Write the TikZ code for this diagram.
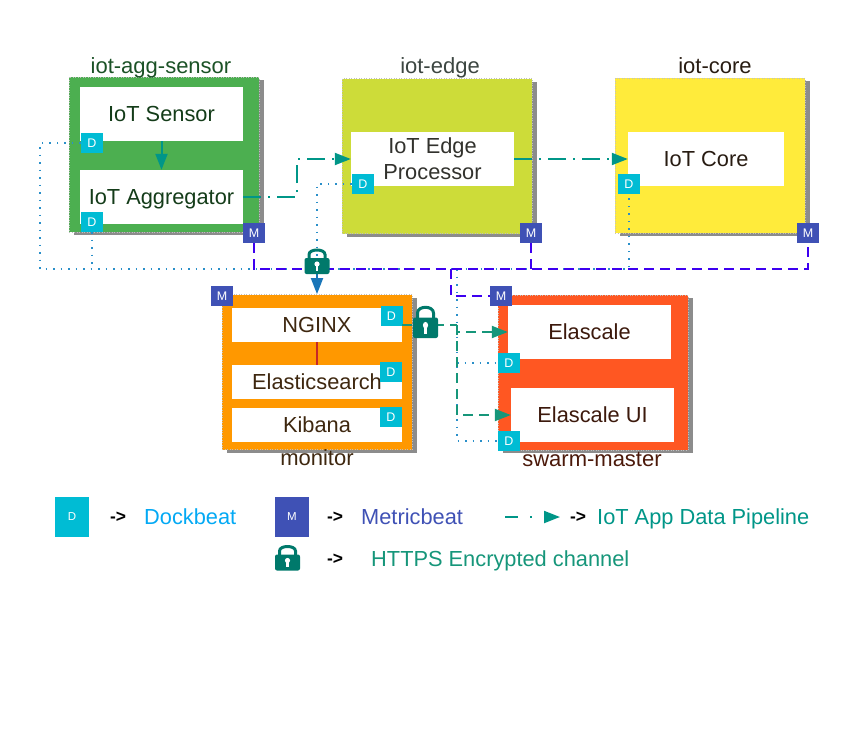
\documentclass[tikz,border=0pt]{standalone}
\usepackage{fontspec}
\setmainfont{Liberation Sans}
\usepackage{tikz}
\usetikzlibrary{arrows.meta,shadows}
\definecolor{DockColor}{HTML}{00BCD4}
\definecolor{MetricColor}{HTML}{3F51B5}
\definecolor{PipeColor}{HTML}{009688}
\definecolor{LockColor}{HTML}{00796B}
\definecolor{BusColor}{HTML}{3D00F0}
\definecolor{DotColor}{HTML}{2A8FC9}
\definecolor{SecureColor}{HTML}{16967A}
\definecolor{AggFill}{HTML}{4CAF50}
\definecolor{EdgeFill}{HTML}{CDDC39}
\definecolor{CoreFill}{HTML}{FFEB3B}
\definecolor{MonitorFill}{HTML}{FF9800}
\definecolor{SwarmFill}{HTML}{FF5722}
\definecolor{AggText}{HTML}{143C19}
\definecolor{EdgeText}{HTML}{32322D}
\definecolor{CoreText}{HTML}{281C12}
\definecolor{MonitorText}{HTML}{3E270F}
\definecolor{SwarmText}{HTML}{3C190C}
\definecolor{AggLabel}{HTML}{1B5226}
\definecolor{EdgeLabel}{HTML}{3C4641}
\definecolor{SwarmLabel}{HTML}{4B190A}
\definecolor{RedLink}{HTML}{C62828}
\definecolor{HttpsArrow}{HTML}{1976B8}
\definecolor{DockText}{HTML}{03A9F4}
\newcommand{\MainFont}{\fontsize{21.8}{26}\selectfont}
\tikzset{
  hostbox/.style={minimum width=190,minimum height=155,inner sep=0,fill=#1,
    draw=black!25,line width=0.8pt,dash pattern=on 1pt off 1.5pt,
    general shadow={fill=black!45,shadow xshift=5pt,shadow yshift=-3pt}},
  oneline/.style={text height=15.5pt,text depth=0pt},
  appbox/.style={fill=white,inner sep=0,minimum width=163,minimum height=54,
    font=\MainFont,align=center},
  hostlabel/.style={font=\fontsize{22}{26}\selectfont,inner sep=0,oneline},
  legendtext/.style={inner sep=0,anchor=west,font=\MainFont,oneline},
  legendarrow/.style={inner sep=0,font=\MainFont\bfseries,scale=0.8},
  dockbadge/.style={fill=DockColor,text=white,inner sep=0,minimum width=22,
    minimum height=20,font=\fontsize{12.5}{12}\selectfont},
  metricbadge/.style={fill=MetricColor,text=white,inner sep=0,minimum width=22,
    minimum height=20,font=\fontsize{12.5}{12}\selectfont},
  pipeline/.style={PipeColor,line width=2pt,
    dash pattern=on 18pt off 7pt on 2pt off 7pt},
  securelink/.style={SecureColor,line width=2pt,dash pattern=on 10pt off 6pt},
  metricbus/.style={BusColor,line width=2pt,dash pattern=on 10pt off 6pt},
  dockbus/.style={DotColor,line width=1.5pt,dash pattern=on 1.5pt off 6pt},
  padlock/.pic={
    \draw[LockColor,line width=3pt] (-8,-3) -- (-8,-7) .. controls (-8,-13) and (8,-13) .. (8,-7) -- (8,-3);
    \fill[LockColor,rounded corners=2pt] (-12.5,-3.5) rectangle (12.5,12.5);
    \fill[white] (0,2.5) circle (2.6pt);
    \fill[white] (-1.2,2.5) rectangle (1.2,9);
  }
}

\begin{document}
\begin{tikzpicture}[line cap=butt,line join=miter,>={Triangle[length=16pt,width=12pt]},x=1pt,y=-1pt]
  \useasboundingbox (0,0) rectangle (859,737);
  \node[hostbox=AggFill] (aggsensor) at (164,154.5) {};
  \node[hostbox=EdgeFill] (edgehost) at (437,156) {};
  \node[hostbox=CoreFill] (corehost) at (710,155.5) {};
  \node[hostbox=MonitorFill] (monitorhost) at (317,372) {};
  \node[hostbox=SwarmFill] (swarmhost) at (593,372.5) {};

  \node[hostlabel,text=AggLabel] (aggsensorlabel) at (161,65.5) {iot-agg-sensor};
  \node[hostlabel,text=EdgeLabel] (edgelabel) at (440,65.5) {iot-edge};
  \node[hostlabel,text=CoreText] (corelabel) at (715,65.5) {iot-core};
  \node[hostlabel,text=MonitorText] (monitorlabel) at (317,457.5) {monitor};
  \node[hostlabel,text=SwarmLabel] (swarmlabel) at (592,458.5) {swarm-master};

  \node[appbox,oneline,text=AggText] (sensor) at (161.5,114) {IoT Sensor};
  \node[appbox,oneline,text=AggText] (aggregator) at (161.5,197) {IoT Aggregator};
  \node[appbox,text=EdgeText] (edgeproc) at (432.5,159) {IoT Edge\\Processor};
  \node[appbox,oneline,minimum width=156,text=CoreText] (core) at (706,159) {IoT Core};
  \node[appbox,oneline,minimum width=170,minimum height=34,text=MonitorText] (nginx) at (317,325) {NGINX};
  \node[appbox,oneline,minimum width=170,minimum height=34,text=MonitorText] (elastic) at (317,382) {Elasticsearch};
  \node[appbox,oneline,minimum width=170,minimum height=34,text=MonitorText] (kibana) at (317,425) {Kibana};
  \node[appbox,oneline,text=SwarmText] (elascale) at (589.5,332) {Elascale};
  \node[appbox,oneline,text=SwarmText] (elascaleui) at (592.5,415) {Elascale UI};

  \coordinate (dotleft) at (40,269);
  \coordinate (dotjoin) at (317,269);
  \coordinate (dotfork) at (457,269);
  \coordinate (metricjoin) at (451,269);
  \coordinate (securefork) at (457,325);
  \coordinate (securestart) at (402,325);

  \node[dockbadge] (sensorD) at (92,143) {D};
  \node[dockbadge] (aggD) at (92,222) {D};
  \node[dockbadge] (edgeD) at (363,184) {D};
  \node[dockbadge] (coreD) at (629,184) {D};
  \node[dockbadge] (nginxD) at (391.5,316) {D};
  \node[dockbadge] (elasticD) at (391,372) {D};
  \node[dockbadge] (kibanaD) at (391,417) {D};
  \node[dockbadge] (elascaleD) at (509,363) {D};
  \node[dockbadge] (elascaleuiD) at (509,441) {D};
  \node[metricbadge] (aggM) at (254,233) {M};
  \node[metricbadge] (edgeM) at (531,233) {M};
  \node[metricbadge] (coreM) at (808,233) {M};
  \node[metricbadge] (monitorM) at (222,296) {M};
  \node[metricbadge] (swarmM) at (501,296) {M};

  \draw[dockbus] (sensorD.west) -| (dotleft) -- (coreD.south |- dotleft) -- (coreD.south);
  \draw[dockbus] (aggD.south) -- (aggD.south |- dotleft);
  \draw[dockbus] (edgeD.west) -| (dotjoin);
  \draw[dockbus] (dotfork) |- (elascaleuiD.west);
  \draw[dockbus] (dotfork |- elascaleD.west) -- (elascaleD.west);
  \draw[metricbus] (aggM.south) |- (metricjoin) -| (coreM.south);
  \draw[metricbus] (edgeM.south) -- (edgeM.south |- metricjoin);
  \draw[metricbus] (metricjoin) |- (swarmM.west);
  \draw[->,PipeColor,line width=2pt] (sensor.south) -- (aggregator.north);
  \draw[line width=2pt,color=RedLink] (nginx.south) -- (elastic.north);
  \draw[->,pipeline] (aggregator.east) -- ++(54,0) |- (edgeproc.west);
  \draw[->,pipeline] (edgeproc.east) -- (core.west);
  \draw[->,line width=2pt,color=HttpsArrow] (dotjoin) -- (monitorhost.north);
  \draw[securelink] (securestart) -- (securefork);
  \draw[->,securelink] (securefork) |- (elascale.west);
  \draw[->,securelink] (securefork) |- (elascaleui.west);

  \pic (lockbus) at (317,261.5) {padlock};
  \pic[yscale=1.28] (locknginx) at (425.5,322) {padlock};

  \node[dockbadge,minimum width=34,minimum height=40,font=\fontsize{11.5}{11}\selectfont] (legendD) at (72,517) {D};
  \node[legendarrow] (legendDarrow) at (118,517) {->};
  \node[legendtext,text=DockText] (legendDtext) at (144,517) {Dockbeat};
  \node[metricbadge,minimum width=34,minimum height=40,font=\fontsize{11.5}{11}\selectfont] (legendM) at (292,517) {M};
  \node[legendarrow] (legendMarrow) at (335,517) {->};
  \node[legendtext,text=MetricColor] (legendMtext) at (361,517) {Metricbeat};
  \coordinate (legendpipeA) at (505,517);
  \coordinate (legendpipeB) at (560,517);
  \draw[->,PipeColor,line width=2pt,dash pattern=on 13pt off 12pt on 2pt off 30pt] (legendpipeA) -- (legendpipeB);
  \node[legendarrow] (legendParrow) at (578,517) {->};
  \node[legendtext,text=PipeColor] (legendPtext) at (597,517) {IoT App Data Pipeline};
  \pic (locklegend) at (287.5,558) {padlock};
  \node[legendarrow] (legendLarrow) at (335,559) {->};
  \node[legendtext,text=SecureColor] (legendLtext) at (371,559) {HTTPS Encrypted channel};
\end{tikzpicture}
\end{document}
